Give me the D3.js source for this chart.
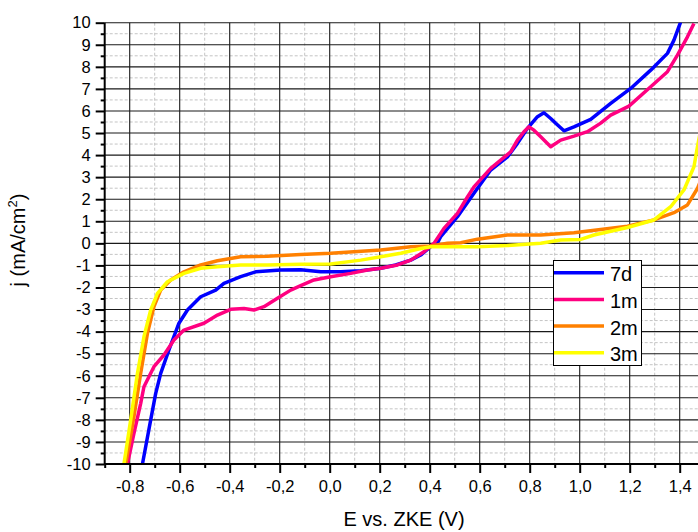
<!DOCTYPE html>
<html><head><meta charset="utf-8">
<script src="https://cdn.jsdelivr.net/npm/d3@7"></script>
<style>body{margin:0;background:#fff}svg{display:block}</style>
</head><body>
<script>
// ---- data ----
const seriesNames = ["7d", "1m", "2m", "3m"];
const seriesColors = ["#0000ff", "#ff0080", "#ff8000", "#ffff00"];

const e7d = [-0.749,-0.716,-0.696,-0.676,-0.643,-0.603,-0.569,-0.516,-0.456,-0.423,-0.356,-0.296,-0.196,-0.116,-0.036,0.044,0.124,0.204,0.264,0.324,0.364,0.404,0.43,0.444,0.511,0.577,0.644,0.711,0.751,0.791,0.831,0.857,0.884,0.904,0.937,0.977,1.044,1.124,1.204,1.284,1.351,1.377,1.404];
const j7d = [-10,-8.0,-6.8,-5.89,-4.83,-3.62,-3.02,-2.42,-2.12,-1.81,-1.51,-1.29,-1.21,-1.2,-1.29,-1.29,-1.24,-1.13,-0.98,-0.76,-0.53,-0.15,0,0.3,1.21,2.27,3.32,3.92,4.53,5.21,5.74,5.92,5.66,5.44,5.10,5.28,5.62,6.34,7.02,7.85,8.61,9.21,10.04];

const e1m = [-0.809,-0.783,-0.756,-0.743,-0.703,-0.663,-0.623,-0.583,-0.503,-0.449,-0.396,-0.343,-0.303,-0.263,-0.209,-0.156,-0.116,-0.063,0.004,0.084,0.151,0.204,0.271,0.324,0.377,0.417,0.457,0.511,0.551,0.577,0.644,0.684,0.724,0.751,0.777,0.797,0.817,0.844,0.884,0.924,0.977,1.031,1.084,1.124,1.197,1.284,1.351,1.391,1.431,1.457];
const j1m = [-10,-8.61,-7.25,-6.5,-5.59,-5.06,-4.38,-3.93,-3.62,-3.25,-2.99,-2.95,-3.02,-2.87,-2.49,-2.12,-1.92,-1.66,-1.51,-1.36,-1.21,-1.13,-0.98,-0.76,-0.38,0,0.68,1.36,2.1,2.56,3.40,3.77,4.15,4.68,5.06,5.28,5.13,4.83,4.38,4.68,4.86,5.06,5.45,5.81,6.22,7.10,7.78,8.53,9.36,9.96];

const e2m = [-0.816,-0.783,-0.756,-0.729,-0.703,-0.676,-0.636,-0.583,-0.516,-0.449,-0.356,-0.249,-0.116,0.004,0.204,0.324,0.404,0.471,0.524,0.591,0.711,0.844,0.977,1.084,1.191,1.297,1.377,1.431,1.471,1.49];
const j2m = [-10,-7.86,-5.89,-4.08,-2.87,-2.12,-1.66,-1.29,-0.98,-0.79,-0.61,-0.58,-0.5,-0.45,-0.30,-0.15,-0.12,0,0.03,0.19,0.38,0.38,0.48,0.63,0.78,1.06,1.39,1.74,2.49,3.0];

const e3m = [-0.823,-0.796,-0.769,-0.743,-0.716,-0.689,-0.649,-0.583,-0.516,-0.449,-0.356,-0.249,-0.116,0.004,0.124,0.204,0.284,0.364,0.404,0.471,0.591,0.711,0.844,0.924,1.004,1.057,1.191,1.297,1.364,1.417,1.457,1.471,1.49];
const j3m = [-10,-8.0,-5.89,-4.23,-3.02,-2.27,-1.74,-1.36,-1.13,-1.06,-0.98,-0.98,-0.95,-0.94,-0.76,-0.61,-0.45,-0.23,-0.15,-0.15,-0.15,-0.1,0,0.15,0.18,0.38,0.72,1.06,1.66,2.42,3.47,4.38,5.5];

const xMajorTicks = [-0.8,-0.6,-0.4,-0.2,0.0,0.2,0.4,0.6,0.8,1.0,1.2,1.4];
const yMajorTicks = [-10,-9,-8,-7,-6,-5,-4,-3,-2,-1,0,1,2,3,4,5,6,7,8,9,10];
const xLabel = "E vs. ZKE (V)";

// ---- layout ----
const W = 698, H = 532;
const FONT = "Arial, 'Liberation Sans', sans-serif";
const svg = d3.select("body").append("svg").attr("width", W).attr("height", H)
  .style("font-family", FONT);

const x = d3.scaleLinear().domain([-0.9, 1.5]).range([104.7, 704.7]);
const y = d3.scaleLinear().domain([-10, 10]).range([464, 22.7]);
const pTop = y(10), pBot = y(-10), pLeft = x(-0.9), pRight = W;

const xMinor = d3.range(-0.9, 1.501, 0.1).map(v => +v.toFixed(2)).filter(v => !xMajorTicks.some(m => Math.abs(m - v) < 1e-6));
const yMinor = d3.range(-9.5, 10, 1);

const g = svg.append("g");
// minor grid
g.selectAll(".vmin").data(xMinor.filter(v => v > -0.89)).join("line")
  .attr("x1", d => x(d)).attr("x2", d => x(d)).attr("y1", pTop).attr("y2", pBot)
  .attr("stroke", "#c4c4c4").attr("stroke-width", 1).attr("stroke-dasharray", "3,2");
g.selectAll(".hmin").data(yMinor).join("line")
  .attr("x1", pLeft).attr("x2", pRight).attr("y1", d => y(d)).attr("y2", d => y(d))
  .attr("stroke", "#c4c4c4").attr("stroke-width", 1).attr("stroke-dasharray", "3,2");
// major grid
g.selectAll(".vmaj").data(xMajorTicks).join("line")
  .attr("x1", d => x(d)).attr("x2", d => x(d)).attr("y1", pTop).attr("y2", pBot)
  .attr("stroke", "#1a1a1a").attr("stroke-width", 1.1);
g.selectAll(".hmaj").data(yMajorTicks.filter(v => v > -10)).join("line")
  .attr("x1", pLeft).attr("x2", pRight).attr("y1", d => y(d)).attr("y2", d => y(d))
  .attr("stroke", "#1a1a1a").attr("stroke-width", 1.1);

// clip
svg.append("clipPath").attr("id", "clip").append("rect")
  .attr("x", pLeft).attr("y", pTop).attr("width", pRight - pLeft).attr("height", pBot - pTop);

const allSeries = [[e7d, j7d], [e1m, j1m], [e2m, j2m], [e3m, j3m]];
const line = d3.line().x(d => x(d[0])).y(d => y(d[1])).curve(d3.curveLinear);
const lg = svg.append("g").attr("clip-path", "url(#clip)");
allSeries.forEach((s, i) => {
  const pts = s[0].map((e, k) => [e, s[1][k]]);
  lg.append("path").datum(pts).attr("d", line).attr("fill", "none")
    .attr("stroke", seriesColors[i]).attr("stroke-width", 3.5).attr("stroke-linejoin", "round");
});

// axes
const fmt = v => d3.format(".1f")(v).replace(".", ",").replace("−", "-");
const xAxis = svg.append("g").attr("transform", `translate(0,${pBot})`)
  .call(d3.axisBottom(x).tickValues(xMajorTicks).tickSize(9).tickPadding(7).tickFormat(fmt));
svg.append("g").attr("transform", `translate(0,${pBot})`)
  .call(d3.axisBottom(x).tickValues(xMinor).tickSize(4).tickFormat(""))
  .call(a => a.select(".domain").remove());
const yAxis = svg.append("g").attr("transform", `translate(${pLeft},0)`)
  .call(d3.axisLeft(y).tickValues(yMajorTicks).tickSize(9).tickPadding(5).tickFormat(d => String(d)));
svg.append("g").attr("transform", `translate(${pLeft},0)`)
  .call(d3.axisLeft(y).tickValues(yMinor).tickSize(4).tickFormat(""))
  .call(a => a.select(".domain").remove());

svg.selectAll(".tick line").attr("stroke", "#000").attr("stroke-width", 2);
xAxis.select(".domain").attr("stroke", "#000").attr("stroke-width", 2).attr("d", `M${pLeft},0H${pRight}`);
yAxis.select(".domain").attr("stroke", "#000").attr("stroke-width", 2).attr("d", `M0,${pTop}V${pBot}`);
xAxis.selectAll("text").attr("font-size", 16.5).attr("fill", "#000").attr("font-family", FONT);
yAxis.selectAll("text").attr("font-size", 16.5).attr("fill", "#000").attr("font-family", FONT);

// axis titles
svg.append("text").attr("x", 404).attr("y", 526).attr("text-anchor", "middle")
  .attr("font-size", 20).attr("fill", "#000").text(xLabel);
const yt = svg.append("text").attr("transform", "translate(25,240) rotate(-90)")
  .attr("text-anchor", "middle").attr("font-size", 20).attr("fill", "#000");
yt.append("tspan").text("j (mA/cm");
yt.append("tspan").attr("dy", -8).attr("font-size", 13).text("2");
yt.append("tspan").attr("dy", 8).text(")");

// legend
const leg = svg.append("g");
leg.append("rect").attr("x", 553.5).attr("y", 260.5).attr("width", 88).attr("height", 105)
  .attr("fill", "#fff").attr("stroke", "#000").attr("stroke-width", 1);
seriesNames.forEach((n, i) => {
  const ly = 272.7 + i * 26.7;
  leg.append("line").attr("x1", 554).attr("x2", 604).attr("y1", ly).attr("y2", ly)
    .attr("stroke", seriesColors[i]).attr("stroke-width", 3.5);
  leg.append("text").attr("x", 610).attr("y", ly + 8.5).attr("font-size", 20).attr("fill", "#000").text(n);
});
</script>
</body></html>
